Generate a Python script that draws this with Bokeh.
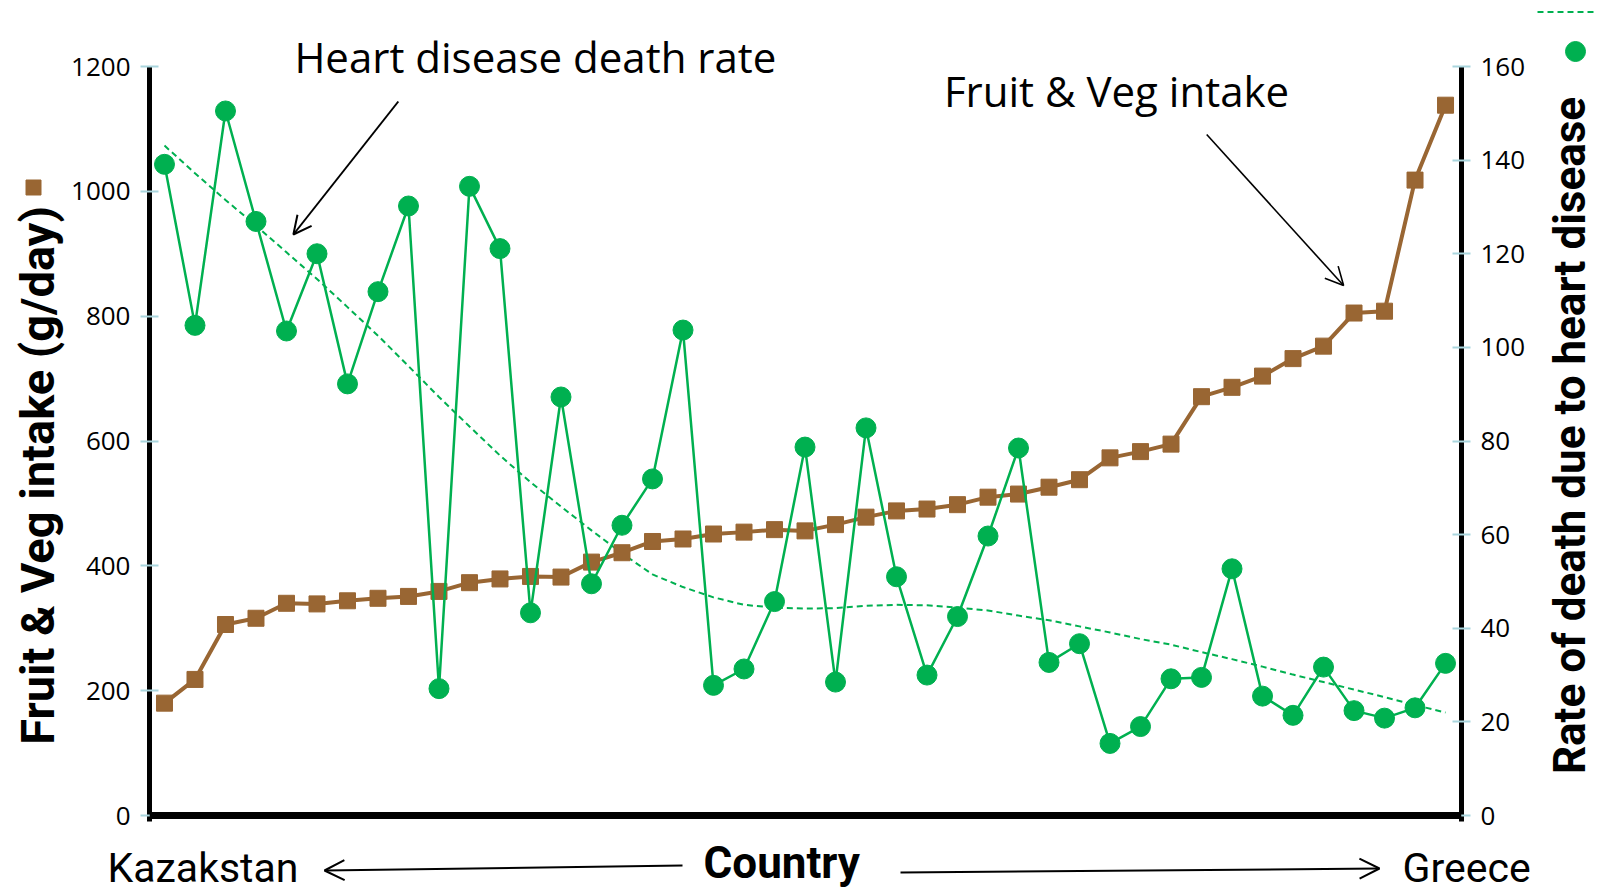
import numpy as np
from bokeh.plotting import figure
from bokeh.layouts import row, column
from bokeh.models import Range1d, LinearAxis, Label, Arrow, OpenHead, FixedTicker, Span
from bokeh.core.properties import value
from bokeh.embed import file_html
from bokeh.resources import INLINE

# ---------------- data ----------------
fruit_veg = [180, 218, 306, 316, 340, 339, 344, 348, 351, 359, 373,
             379, 383, 382, 406, 421, 439, 443, 451, 454, 458, 456,
             466, 478, 488, 491, 498, 510, 515, 526, 538, 573, 583,
             595, 671, 686, 704, 732, 752, 805, 808, 1018, 1138]
heart_rate = [139.1, 104.7, 150.5, 126.9, 103.5, 120.0, 92.2, 111.9, 130.2, 27.1, 134.4,
              121.1, 43.3, 89.4, 49.5, 62.0, 71.9, 103.7, 27.8, 31.3, 45.7, 78.7,
              28.5, 82.8, 51.0, 30.0, 42.5, 59.7, 78.5, 32.7, 36.7, 15.4, 19.0,
              29.2, 29.5, 52.7, 25.5, 21.4, 31.7, 22.4, 20.8, 23.0, 32.5]
# trendline of the death rate at each country
heart_trend = [143.1, 137.2, 131.5, 126.0, 120.3, 114.6, 108.6, 102.5, 96.0, 89.4,
               83.1, 76.9, 71.2, 66.0, 60.9, 56.0, 51.5, 48.8, 46.6, 45.0,
               44.4, 44.2, 44.3, 44.8, 45.0, 44.9, 44.4, 43.8, 42.7, 41.7,
               40.4, 39.1, 37.7, 36.5, 34.9, 33.4, 31.8, 30.1, 28.5, 26.9,
               25.3, 23.6, 22.0]
left_ticks = [0, 200, 400, 600, 800, 1000, 1200]
right_ticks = [0, 20, 40, 60, 80, 100, 120, 140, 160]
first_country = "Kazakstan"
last_country = "Greece"

idx = list(range(len(fruit_veg)))

GREEN = "#00B050"
BROWN = "#996633"
TICK = "#a9d5dd"

# ---------------- geometry (page pixels) ----------------
W, H = 1597, 892
LW, RW = 68, 66          # side strips
MH = 835                 # main figure height
BH = H - MH              # bottom strip height
MW = W - LW - RW
FL, FR = 148, 1461       # frame left/right (page px)
PX0, PXU = 163, 30.524   # first country position, px per country
Y0PX, Y1200PX = 815, 66
K = 1200.0 / (Y0PX - Y1200PX)


def xm(px):
    return (px - PX0) / PXU


def ym(py):
    return (Y0PX - py) * K


main = figure(width=MW, height=MH,
              x_range=Range1d(xm(FL), xm(FR)),
              y_range=Range1d(ym(MH), ym(0)),
              output_backend="svg", toolbar_location=None, x_axis_location=None,
              min_border_left=FL - LW, min_border_right=(W - RW) - FR,
              min_border_top=0, min_border_bottom=0)
main.extra_y_ranges = {"rate": Range1d(ym(MH) * 160 / 1200, ym(0) * 160 / 1200)}
main.xgrid.visible = False
main.ygrid.visible = False
main.outline_line_color = None


def style_axis(ax):
    ax.axis_line_width = 5
    ax.axis_line_color = "black"
    ax.major_tick_line_color = TICK
    ax.major_tick_line_width = 2
    ax.major_tick_in = 9
    ax.major_tick_out = 9
    ax.minor_tick_line_color = None
    ax.major_label_text_font = "Open Sans"
    ax.major_label_text_font_size = "26px"
    ax.major_label_text_color = "black"
    ax.major_label_standoff = 10


ya = main.yaxis[0]
ya.ticker = FixedTicker(ticks=left_ticks)
ya.bounds = (-6 * K, 1200)
style_axis(ya)

ra = LinearAxis(y_range_name="rate", ticker=FixedTicker(ticks=right_ticks),
                bounds=(-6 * K * 160 / 1200, 160))
style_axis(ra)
main.add_layout(ra, "right")

# x axis line at zero
main.add_layout(Span(location=0, dimension="width", line_color="black", line_width=7))

# series
main.line(idx, heart_trend, y_range_name="rate", line_color=GREEN, line_width=2,
          line_dash="6 4")
main.line(idx, fruit_veg, line_color=BROWN, line_width=4)
main.scatter(idx, fruit_veg, marker="square", size=16, fill_color=BROWN, line_color=BROWN)
main.line(idx, heart_rate, y_range_name="rate", line_color=GREEN, line_width=2.5)
main.scatter(idx, heart_rate, y_range_name="rate", marker="circle", size=20,
             fill_color=GREEN, line_color=GREEN)

# annotations inside the chart
main.add_layout(Label(x=xm(293), y=ym(56), text="Heart disease death rate",
                      text_font="Open Sans", text_font_size="42px", text_baseline="middle",
                      text_align="left", text_color="black"))
main.add_layout(Label(x=xm(943), y=ym(90), text="Fruit & Veg intake",
                      text_font="Open Sans", text_font_size="42px", text_baseline="middle",
                      text_align="left", text_color="black"))
main.add_layout(Arrow(x_start=xm(397), y_start=ym(101), x_end=xm(292), y_end=ym(234),
                      end=OpenHead(size=18, line_width=2, line_color="black"),
                      line_color="black", line_width=2))
main.add_layout(Arrow(x_start=xm(1206), y_start=ym(134), x_end=xm(1343), y_end=ym(285),
                      end=OpenHead(size=18, line_width=1.6, line_color="black"),
                      line_color="black", line_width=1.6))


def strip(width, height, x0, x1):
    f = figure(width=width, height=height, x_range=Range1d(x0, x1), y_range=Range1d(0, height),
               output_backend="svg", toolbar_location=None, x_axis_location=None,
               y_axis_location=None, min_border=0)
    f.xgrid.visible = False
    f.ygrid.visible = False
    f.outline_line_color = None
    return f


# left strip: axis title + legend key
left = strip(LW, MH, 0, LW)
left.text(x=[37], y=[MH - 469], text=["Fruit & Veg  intake (g/day)"], angle=np.pi / 2,
          text_font=value("Roboto"), text_font_style="bold", text_font_size="47px",
          text_align="center", text_baseline="middle", text_color="black")
left.scatter(x=[33], y=[MH - 187], marker="square", size=15, fill_color=BROWN, line_color=BROWN)

# right strip: axis title + legend keys
right = strip(RW, MH, W - RW, W)
right.text(x=[1569], y=[MH - 435], text=["Rate of death due to heart disease"], angle=np.pi / 2,
           text_font=value("Roboto"), text_font_style="bold", text_font_size="44px",
           text_align="center", text_baseline="middle", text_color="black")
right.scatter(x=[1575], y=[MH - 51], marker="circle", size=20, fill_color=GREEN, line_color=GREEN)
right.line(x=[1537, 1597], y=[MH - 11.5, MH - 11.5], line_color=GREEN, line_width=2,
           line_dash="6 4")

# bottom strip: country direction
bottom = strip(W, BH, 0, W)
bottom.text(x=[107], y=[H - 867], text=[first_country], text_font=value("Roboto"),
            text_font_size="41px", text_align="left", text_baseline="middle",
            text_color="black")
bottom.text(x=[703], y=[H - 862], text=["Country"], text_font=value("Roboto"),
            text_font_style="bold", text_font_size="44px", text_align="left",
            text_baseline="middle", text_color="black")
bottom.text(x=[1402], y=[H - 867], text=[last_country], text_font=value("Roboto"),
            text_font_size="41px", text_align="left", text_baseline="middle",
            text_color="black")
bottom.add_layout(Arrow(x_start=682, y_start=H - 865, x_end=324, y_end=H - 870,
                        end=OpenHead(size=20, line_width=2, line_color="black"),
                        line_color="black", line_width=2))
bottom.add_layout(Arrow(x_start=900, y_start=H - 872, x_end=1379, y_end=H - 868,
                        end=OpenHead(size=20, line_width=2, line_color="black"),
                        line_color="black", line_width=2))

layout = column(row(left, main, right, spacing=0), bottom, spacing=0)
open("out.html", "w").write(file_html(layout, INLINE))
